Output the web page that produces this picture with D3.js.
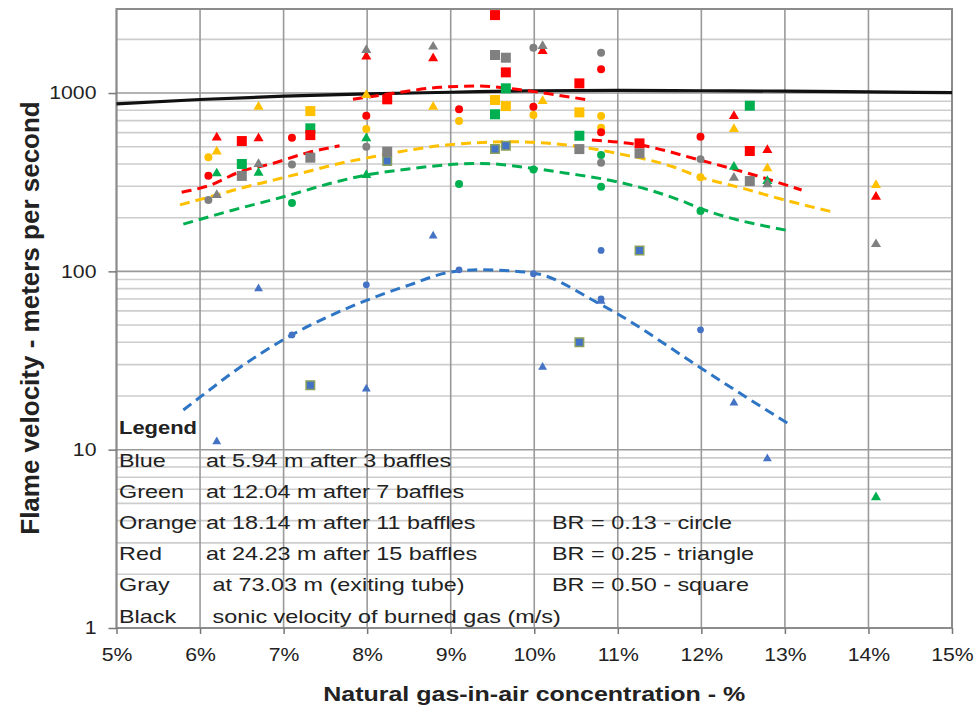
<!DOCTYPE html>
<html>
<head>
<meta charset="utf-8">
<script src="https://cdn.jsdelivr.net/npm/d3@7"></script>
<style>
  body { margin: 0; background: #fff; }
  text { font-family: "Liberation Sans", Arial, sans-serif; fill: #222; }
</style>
</head>
<body>
<svg width="977" height="713"></svg>
<script>
// ---- data: [gas %, velocity m/s] ----
const xTicks = [5, 6, 7, 8, 9, 10, 11, 12, 13, 14, 15];
const yTicks = [1, 10, 100, 1000];

const blueCircles = [[7.10, 44], [7.99, 84], [9.10, 102], [9.99, 97], [10.80, 131], [10.80, 70], [11.99, 47]];
const blueTriangles = [[6.20, 11.1], [6.70, 80], [7.99, 21.9], [8.79, 158], [10.10, 29], [10.80, 68], [12.39, 18.3], [12.79, 8.9]];
const blueSquares = [[7.32, 23], [10.54, 40], [11.26, 131], [8.24, 416], [9.53, 485], [9.66, 506]];

const greenCircles = [[7.10, 242], [9.10, 309], [9.99, 373], [10.80, 449], [10.80, 298], [11.99, 218]];
const greenTriangles = [[6.20, 354], [6.70, 357], [7.99, 557], [7.99, 347], [12.39, 386], [12.79, 321], [14.09, 5.4]];
const greenSquares = [[6.50, 400], [7.32, 634], [9.53, 760], [9.66, 1063], [10.54, 576], [12.58, 849]];

const orangeCircles = [[6.10, 436], [7.99, 628], [9.10, 697], [9.99, 753], [10.80, 743], [10.80, 639], [11.99, 337]];
const orangeTriangles = [[6.20, 469], [6.70, 838], [7.99, 975], [8.79, 838], [10.10, 902], [12.39, 628], [12.79, 378], [14.09, 305]];
const orangeSquares = [[7.32, 792], [9.53, 914], [9.66, 845], [10.54, 779]];

const redCircles = [[6.10, 344], [7.10, 562], [7.99, 746], [9.10, 810], [9.99, 838], [10.80, 1358], [10.80, 602], [11.99, 569]];
const redTriangles = [[6.20, 562], [6.70, 557], [7.99, 1600], [8.79, 1565], [10.10, 1720], [12.39, 743], [12.79, 479], [14.09, 262]];
const redSquares = [[6.50, 538], [7.32, 581], [8.24, 922], [9.53, 2736], [9.66, 1306], [10.54, 1133], [11.26, 522], [12.58, 473]];

const grayCircles = [[6.10, 251], [7.10, 398], [7.99, 500], [9.99, 1795], [10.80, 1683], [10.80, 406], [11.99, 426]];
const grayTriangles = [[6.20, 268], [6.70, 400], [7.99, 1742], [8.79, 1819], [10.10, 1835], [12.39, 335], [12.79, 308], [14.09, 142]];
const graySquares = [[6.50, 343], [7.32, 434], [8.24, 469], [9.53, 1634], [9.66, 1578], [10.54, 485], [11.26, 459], [12.58, 321]];

// sonic velocity of burned gas
const sonicVelocity = [[5, 870], [6, 920], [7, 960], [8, 990], [9, 1010], [10, 1030], [11, 1035], [12, 1030], [13, 1025], [14, 1015], [15, 1005]];

// dashed trend lines
const blueTrend = [[5.80, 16.7], [6.00, 19.7], [6.48, 29], [6.99, 41.2], [8.00, 69], [8.51, 84], [8.99, 99], [9.35, 102], [9.98, 98], [10.75, 67], [10.99, 58], [11.98, 29], [12.50, 20.2], [13.03, 14.1]];
const greenTrend = [[5.80, 184], [6.40, 221], [7.00, 262], [7.59, 314], [7.99, 347], [8.39, 370], [9.35, 403], [9.99, 378], [10.39, 355], [10.99, 318], [11.74, 251], [11.98, 226], [13.02, 170]];
const orangeTrend = [[5.76, 236], [6.12, 262], [6.48, 292], [6.88, 325], [7.28, 362], [7.67, 403], [8.07, 439], [8.39, 469], [8.95, 511], [9.75, 533], [10.39, 511], [10.99, 459], [11.66, 386], [11.98, 339], [12.50, 292], [13.00, 251], [13.56, 216]];
const redTrendLeft = [[5.78, 278], [6.12, 304], [6.48, 362], [6.88, 404], [7.28, 462], [7.67, 506]];
const redTrendArc = [[7.83, 922], [8.31, 996], [8.87, 1077], [9.31, 1094], [9.79, 1049], [10.27, 975], [10.65, 914]];
const redTrendRight = [[10.69, 545], [11.27, 511], [11.98, 421], [12.55, 356], [13.20, 286]];

const legendRows = [
  ['Blue', 'at 5.94 m after 3 baffles', ''],
  ['Green', 'at 12.04 m after 7 baffles', ''],
  ['Orange', 'at 18.14 m after 11 baffles', 'BR = 0.13 - circle'],
  ['Red', 'at 24.23 m after 15 baffles', 'BR = 0.25 - triangle'],
  ['Gray', ' at 73.03 m (exiting tube)', 'BR = 0.50 - square'],
  ['Black', ' sonic velocity of burned gas (m/s)', '']
];

// ---- chart ----
const svg = d3.select('svg');
const margin = { top: 9, right: 25, bottom: 85, left: 116.5 };
const width = +svg.attr('width');
const height = +svg.attr('height');

const xScale = d3.scaleLinear().domain([5, 15]).range([margin.left, width - margin.right]);
const yScale = d3.scaleLog().domain([1, 2960]).range([height - margin.bottom, margin.top]);

const colors = { blue: '#4472c4', green: '#00b050', orange: '#ffc000', red: '#ff0000', gray: '#808080' };

// gridlines
const minorTicks = [];
[1, 10, 100, 1000].forEach(d => {
  for (let k = 2; k <= 9; k++) if (d * k < 2960) minorTicks.push(d * k);
});

const grid = svg.append('g');
grid.selectAll('line.minor').data(minorTicks).join('line')
  .attr('class', 'minor')
  .attr('x1', xScale(5)).attr('x2', xScale(15))
  .attr('y1', d => yScale(d)).attr('y2', d => yScale(d))
  .attr('stroke', '#cdcdcd').attr('stroke-width', 1.6);

grid.selectAll('line.major').data(yTicks).join('line')
  .attr('class', 'major')
  .attr('x1', xScale(5)).attr('x2', xScale(15))
  .attr('y1', d => yScale(d)).attr('y2', d => yScale(d))
  .attr('stroke', '#9a9a9a').attr('stroke-width', 1.6);

grid.selectAll('line.vert').data(xTicks).join('line')
  .attr('class', 'vert')
  .attr('x1', d => xScale(d)).attr('x2', d => xScale(d))
  .attr('y1', yScale(1)).attr('y2', margin.top)
  .attr('stroke', '#9a9a9a').attr('stroke-width', 1.6);

// frame
svg.append('rect')
  .attr('x', xScale(5)).attr('y', margin.top)
  .attr('width', xScale(15) - xScale(5)).attr('height', yScale(1) - margin.top)
  .attr('fill', 'none').attr('stroke', '#8c8c8c').attr('stroke-width', 2);

// axes
const yAxis = svg.append('g')
  .attr('transform', `translate(${xScale(5)},0)`)
  .call(d3.axisLeft(yScale).tickValues(yTicks).tickFormat(d3.format('d')).tickSize(8).tickPadding(9));
yAxis.select('.domain').remove();
yAxis.selectAll('line').attr('stroke', '#777').attr('stroke-width', 1.5);
yAxis.selectAll('text')
  .attr('font-size', 18)
  .attr('font-family', '"Liberation Sans", Arial, sans-serif')
  .attr('fill', '#333')
  .attr('transform', 'scale(1.18,1)');

const xAxis = svg.append('g')
  .attr('transform', `translate(0,${yScale(1)})`)
  .call(d3.axisBottom(xScale).tickValues(xTicks).tickFormat(d => d + '%').tickSize(6).tickPadding(14));
xAxis.select('.domain').remove();
xAxis.selectAll('line').attr('stroke', '#777').attr('stroke-width', 1.5);
xAxis.selectAll('text')
  .attr('font-size', 18)
  .attr('font-family', '"Liberation Sans", Arial, sans-serif')
  .attr('fill', '#333')
  .attr('transform', 'scale(1.18,1)')
  .attr('x', 0);

// axis titles
svg.append('text')
  .attr('transform', `translate(${(xScale(5) + xScale(15)) / 2},${height - 12}) scale(1.25,1)`)
  .attr('text-anchor', 'middle')
  .attr('font-size', 20).attr('font-weight', 'bold')
  .text('Natural gas-in-air concentration - %');

svg.append('text')
  .attr('transform', `translate(39,318) rotate(-90)`)
  .attr('text-anchor', 'middle')
  .attr('font-size', 26).attr('font-weight', 'bold')
  .text('Flame velocity - meters per second');

// lines
const line = d3.line()
  .x(d => xScale(d[0]))
  .y(d => yScale(d[1]))
  .curve(d3.curveMonotoneX);

const lines = svg.append('g').attr('fill', 'none');
lines.append('path').datum(sonicVelocity)
  .attr('d', line).attr('stroke', '#111').attr('stroke-width', 3.2);

const trends = [
  { data: blueTrend, color: '#2e75c6' },
  { data: greenTrend, color: colors.green },
  { data: orangeTrend, color: colors.orange },
  { data: redTrendLeft, color: colors.red },
  { data: redTrendArc, color: colors.red },
  { data: redTrendRight, color: colors.red }
];
lines.selectAll('path.trend').data(trends).join('path')
  .attr('class', 'trend')
  .attr('d', d => line(d.data))
  .attr('stroke', d => d.color)
  .attr('stroke-width', 3)
  .attr('stroke-dasharray', '10,6');

// markers
const series = [
  { data: blueCircles, color: colors.blue, shape: d3.symbolCircle, size: 36 },
  { data: blueTriangles, color: colors.blue, shape: d3.symbolTriangle, size: 34 },
  { data: blueSquares, color: colors.blue, shape: d3.symbolSquare, size: 72, stroke: '#8aa05a' },
  { data: greenCircles, color: colors.green, shape: d3.symbolCircle, size: 50 },
  { data: greenTriangles, color: colors.green, shape: d3.symbolTriangle, size: 44 },
  { data: greenSquares, color: colors.green, shape: d3.symbolSquare, size: 100 },
  { data: orangeCircles, color: colors.orange, shape: d3.symbolCircle, size: 50 },
  { data: orangeTriangles, color: colors.orange, shape: d3.symbolTriangle, size: 44 },
  { data: orangeSquares, color: colors.orange, shape: d3.symbolSquare, size: 100 },
  { data: redCircles, color: colors.red, shape: d3.symbolCircle, size: 50 },
  { data: redTriangles, color: colors.red, shape: d3.symbolTriangle, size: 44 },
  { data: redSquares, color: colors.red, shape: d3.symbolSquare, size: 100 },
  { data: grayCircles, color: colors.gray, shape: d3.symbolCircle, size: 50 },
  { data: grayTriangles, color: colors.gray, shape: d3.symbolTriangle, size: 44 },
  { data: graySquares, color: colors.gray, shape: d3.symbolSquare, size: 100 }
];

const markers = svg.append('g');
series.forEach(s => {
  markers.append('g').selectAll('path').data(s.data).join('path')
    .attr('transform', d => `translate(${xScale(d[0])},${yScale(d[1])})`)
    .attr('d', d3.symbol().type(s.shape).size(s.size))
    .attr('fill', s.color)
    .attr('stroke', s.stroke || 'none')
    .attr('stroke-width', s.stroke ? 1.5 : 0);
});

// legend (text box inside the plot)
const legend = svg.append('g');
legend.append('text')
  .attr('transform', `translate(119,${yScale(10) - 16}) scale(1.22,1)`)
  .attr('font-size', 18).attr('font-weight', 'bold')
  .text('Legend');

legendRows.forEach((r, i) => {
  const yy = yScale(10) + 17 + i * 31.2;
  legend.append('text')
    .attr('transform', `translate(119,${yy}) scale(1.3,1)`)
    .attr('font-size', 18).text(r[0]);
  legend.append('text')
    .attr('transform', `translate(206,${yy}) scale(1.3,1)`)
    .attr('font-size', 18).attr('xml:space', 'preserve').text(r[1]);
  if (r[2]) {
    legend.append('text')
      .attr('transform', `translate(552,${yy}) scale(1.3,1)`)
      .attr('font-size', 18).text(r[2]);
  }
});
</script>
</body>
</html>
